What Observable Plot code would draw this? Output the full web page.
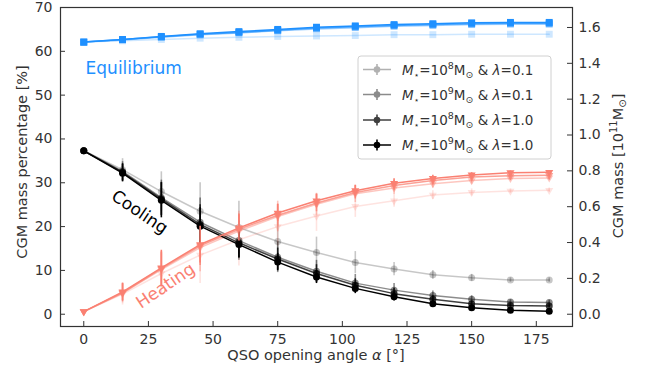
<!DOCTYPE html>
<html><head><meta charset="utf-8">
<script src="https://cdn.jsdelivr.net/npm/d3@7"></script>
<script src="https://cdn.jsdelivr.net/npm/@observablehq/plot@0.6"></script>
<style>
body{margin:0;background:#fff;}
#chart svg{font-family:"DejaVu Sans",sans-serif;}
</style>
</head><body><div id="chart"></div>
<script>
const angles = [0, 15, 30, 45, 60, 75, 90, 105, 120, 135, 150, 165, 180];
const seriesLabels = [
  {m: "8", l: "0.1"},
  {m: "9", l: "0.1"},
  {m: "8", l: "1.0"},
  {m: "9", l: "1.0"}
];
const equilibrium = [
  [62.1, 62.4, 62.7, 63.0, 63.2, 63.4, 63.5, 63.6, 63.8, 63.8, 63.9, 63.9, 63.9],
  [62.1, 62.6, 63.2, 63.8, 64.2, 64.7, 65.1, 65.4, 65.7, 65.9, 66.1, 66.2, 66.2],
  [62.1, 62.7, 63.3, 63.9, 64.3, 64.8, 65.3, 65.6, 65.9, 66.1, 66.3, 66.4, 66.4],
  [62.1, 62.7, 63.4, 64.0, 64.5, 65.0, 65.5, 65.8, 66.1, 66.3, 66.5, 66.6, 66.6]
];
const cooling = [
  [37.3, 33.0, 28.0, 23.5, 19.8, 16.6, 14.1, 11.8, 10.3, 9.0, 8.3, 7.8, 7.8],
  [37.3, 32.6, 26.6, 21.0, 16.8, 13.0, 9.8, 7.1, 5.5, 4.3, 3.4, 2.8, 2.7],
  [37.3, 32.4, 26.3, 20.5, 16.3, 12.6, 9.3, 6.6, 4.7, 3.4, 2.4, 2.0, 1.9],
  [37.3, 32.2, 26.0, 20.1, 15.9, 11.9, 8.5, 5.9, 4.0, 2.4, 1.5, 0.9, 0.7]
];
const heating = [
  [0.6, 4.6, 9.3, 13.5, 17.0, 20.0, 22.4, 24.6, 25.9, 27.2, 27.8, 28.1, 28.3],
  [0.6, 4.8, 10.2, 15.2, 19.0, 22.3, 25.1, 27.5, 28.8, 29.8, 30.5, 31.0, 31.1],
  [0.6, 4.9, 10.4, 15.6, 19.4, 22.6, 25.4, 27.8, 29.4, 30.5, 31.3, 31.6, 31.7],
  [0.6, 5.1, 10.6, 15.9, 19.7, 23.1, 25.9, 28.2, 29.9, 31.0, 31.8, 32.3, 32.4]
];
const errors = [
  [0, 2.5, 4.5, 6.5, 6.0, 4.5, 3.5, 2.5, 1.5, 1.0, 0.8, 0.5, 0.5],
  [0, 2.2, 4.0, 5.5, 4.5, 3.5, 2.5, 2.0, 1.5, 1.0, 0.8, 0.5, 0.5],
  [0, 2.0, 3.8, 4.5, 3.5, 2.5, 2.0, 1.5, 1.2, 0.8, 0.6, 0.4, 0.4],
  [0, 2.0, 4.0, 4.2, 3.0, 2.0, 1.5, 1.2, 1.0, 0.7, 0.5, 0.4, 0.4]
];
const xTicks = [0, 25, 50, 75, 100, 125, 150, 175];
const leftTicks = [0, 10, 20, 30, 40, 50, 60, 70];
const rightTicks = [0, 0.2, 0.4, 0.6, 0.8, 1.0, 1.2, 1.4, 1.6];
const massPerPercentUnit = 40.9; // percent per 10^11 Msun

// styles
const W = 655, H = 375, mL = 60, mR = 83, mT = 7, mB = 49;
const innerW = W - mL - mR, innerH = H - mT - mB;
const alphas = [0.22, 0.45, 0.75, 1];
const BLUE = "#1E90FF", SALMON = "#FA8072", INK = "#333";

const comps = [
  {name: "eq", data: equilibrium, color: BLUE, symbol: "square", r: 3.9, rotate: 0, err: false},
  {name: "cool", data: cooling, color: "black", symbol: "circle", r: 3.5, rotate: 0, err: true},
  {name: "heat", data: heating, color: SALMON, symbol: "triangle", r: 3.0, rotate: 180, err: true}
];

const marks = [];
for (let s = 0; s < 4; s++) {
  for (const c of comps) {
    const rows = angles.map((a, j) => ({a, v: c.data[s][j], e: errors[s][j]}));
    marks.push(Plot.line(rows, {x: "a", y: "v", stroke: c.color, strokeOpacity: alphas[s], strokeWidth: 1.5}));
    if (c.err) {
      marks.push(Plot.ruleX(rows.filter(d => d.e > 0), {x: "a", y1: d => d.v - d.e, y2: d => d.v + d.e, stroke: c.color, strokeOpacity: alphas[s], strokeWidth: 1.6}));
    }
    marks.push(Plot.dot(rows, {x: "a", y: "v", symbol: c.symbol, r: c.r, rotate: c.rotate, fill: c.color, fillOpacity: alphas[s], stroke: "none"}));
  }
}

const rightPos = rightTicks.map(t => t * massPerPercentUnit);

const chart = Plot.plot({
  width: W, height: H,
  marginLeft: mL, marginRight: mR, marginTop: mT, marginBottom: mB,
  style: {fontFamily: "DejaVu Sans, sans-serif", background: "white"},
  x: {domain: [-9, 189]},
  y: {domain: [-2.8, 70]},
  marks: [
    ...marks,
    Plot.text(["Equilibrium"], {x: 0.7, y: 56.1, text: d => d, fill: BLUE, fontSize: 17, textAnchor: "start"}),
    Plot.text(["Cooling"], {x: 21.6, y: 23.3, text: d => d, fill: "black", fontSize: 17, rotate: 34}),
    Plot.text(["Heating"], {x: 31.6, y: 6.5, text: d => d, fill: SALMON, fontSize: 17, rotate: -34}),
    Plot.axisX(xTicks, {tickSize: 0, tickPadding: 8, label: null, fontSize: 14, color: INK}),
    Plot.axisY(leftTicks, {anchor: "left", tickSize: 0, tickPadding: 8, label: null, fontSize: 14, color: INK}),
    Plot.axisY(rightPos, {anchor: "right", tickSize: 0, tickPadding: 6, label: null, fontSize: 14, color: INK,
      tickFormat: d => (d / massPerPercentUnit).toFixed(1)}),
    Plot.tickX(xTicks, {x: d => d, insetTop: innerH - 5, stroke: INK}),
    Plot.tickY(leftTicks, {y: d => d, insetRight: innerW - 5, stroke: INK}),
    Plot.tickY(rightPos, {y: d => d, insetLeft: innerW - 5, stroke: INK}),
    Plot.frame({stroke: INK, strokeWidth: 1.2})
  ]
});
document.getElementById("chart").appendChild(chart);

// Axis titles and legend
const svg = d3.select(chart);
const fam = "DejaVu Sans, sans-serif";
svg.append("text").attr("x", (mL + W - mR) / 2).attr("y", 360).attr("text-anchor", "middle")
  .attr("font-size", 14.5).attr("fill", INK).attr("font-family", fam)
  .call(t => { t.append("tspan").text("QSO opening angle "); t.append("tspan").attr("font-style", "italic").text("α"); t.append("tspan").text(" [°]"); });
svg.append("text").attr("transform", "translate(27,162) rotate(-90)").attr("text-anchor", "middle")
  .attr("font-size", 14.5).attr("fill", INK).attr("font-family", fam).text("CGM mass percentage [%]");
svg.append("text").attr("transform", "translate(623,166) rotate(-90)").attr("text-anchor", "middle")
  .attr("font-size", 14.5).attr("fill", INK).attr("font-family", fam)
  .call(t => {
    t.append("tspan").text("CGM mass [10");
    t.append("tspan").attr("dy", -6).attr("font-size", 10).text("11");
    t.append("tspan").attr("dy", 6).text("M");
    t.append("tspan").attr("dy", 3).attr("font-size", 10).text("⊙");
    t.append("tspan").attr("dy", -3).text("]");
  });

const lg = svg.append("g");
lg.append("rect").attr("x", 358).attr("y", 56).attr("width", 193).attr("height", 103).attr("rx", 3)
  .attr("fill", "white").attr("fill-opacity", 0.8).attr("stroke", "#d0d0d0");
const rowY = [69.5, 94.5, 120, 145];
seriesLabels.forEach((sl, i) => {
  const y = rowY[i];
  const g = lg.append("g").attr("opacity", alphas[i] < 0.3 ? 0.3 : alphas[i]);
  g.append("line").attr("x1", 363).attr("x2", 391).attr("y1", y).attr("y2", y).attr("stroke", "black").attr("stroke-width", 1.5);
  g.append("line").attr("x1", 377).attr("x2", 377).attr("y1", y - 5.5).attr("y2", y + 5.5).attr("stroke", "black").attr("stroke-width", 1.6);
  g.append("circle").attr("cx", 377).attr("cy", y).attr("r", 3.3).attr("fill", "black");
  const t = lg.append("text").attr("x", 402).attr("y", y + 5).attr("text-anchor", "start")
    .attr("font-size", 13.5).attr("fill", INK).attr("font-family", fam);
  t.append("tspan").attr("font-style", "italic").text("M");
  t.append("tspan").attr("dy", 3).attr("font-size", 9).text("⋆");
  t.append("tspan").attr("dy", -3).text("=10");
  t.append("tspan").attr("dy", -6).attr("font-size", 9.5).text(sl.m);
  t.append("tspan").attr("dy", 6).text("M");
  t.append("tspan").attr("dy", 3).attr("font-size", 9.5).text("⊙");
  t.append("tspan").attr("dy", -3).text(" & ");
  t.append("tspan").attr("font-style", "italic").text("λ");
  t.append("tspan").text("=" + sl.l);
});
</script>
</body></html>
